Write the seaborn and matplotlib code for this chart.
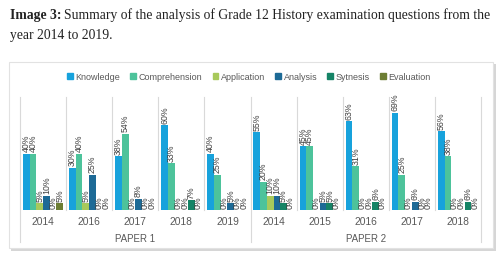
import pandas as pd
import numpy as np
import matplotlib
matplotlib.use("Agg")
import matplotlib.pyplot as plt
import matplotlib.patches as mpatches
import seaborn as sns

# data (percent of questions per cognitive level)
papers = ['PAPER 1'] * 5 + ['PAPER 2'] * 5
years = ['2014', '2016', '2017', '2018', '2019', '2014', '2015', '2016', '2017', '2018']
levels = ['Knowledge', 'Comprehension', 'Application', 'Analysis', 'Sytnesis', 'Evaluation']
knowledge = [40, 30, 38, 60, 40, 55, 45, 63, 69, 56]
comprehension = [40, 40, 54, 33, 25, 20, 45, 31, 25, 38]
application = [5, 5, 0, 0, 0, 10, 0, 0, 0, 0]
analysis = [10, 25, 8, 0, 5, 10, 5, 0, 6, 0]
sytnesis = [0, 0, 0, 7, 0, 5, 5, 6, 0, 6]
evaluation = [5, 0, 0, 0, 0, 0, 0, 0, 0, 0]
colors = ['#17A2DC', '#4DC39B', '#A8C95B', '#1D6A96', '#158466', '#6C7D33']

slots = [p + ' ' + y for p, y in zip(papers, years)]
series = [knowledge, comprehension, application, analysis, sytnesis, evaluation]
rows = []
for lev, vals in zip(levels, series):
    for s, v in zip(slots, vals):
        rows.append({'slot': s, 'level': lev, 'pct': v})
df = pd.DataFrame(rows)

W, H = 503, 260
sans = 'Liberation Sans'
fig = plt.figure(figsize=(W / 100, H / 100), dpi=100)

# chart box with a soft shadow
fig.patches.append(mpatches.Rectangle((11 / W, 9 / H), 485 / W, 187 / H, transform=fig.transFigure,
                                      facecolor='#d6d6d6', edgecolor='none', zorder=-2))
fig.patches.append(mpatches.Rectangle((9 / W, 12 / H), 484 / W, 186 / H, transform=fig.transFigure,
                                      facecolor='white', edgecolor='#e2e2e2', lw=0.8, zorder=-1))

ax = fig.add_axes([20 / W, 50 / H, 461 / W, 113 / H])
ax.set_zorder(2)
ax.patch.set_alpha(0)
sns.barplot(data=df, x='slot', y='pct', hue='level', order=slots, hue_order=levels,
            palette=colors, width=0.87, gap=0, saturation=1, legend=False, ax=ax, errorbar=None)

for cont, vals in zip(ax.containers, series):
    ax.bar_label(cont, labels=[f'{v}%' for v in vals], rotation=90, padding=1,
                 fontsize=6.3, color='#404040', family=sans)

ax.set_ylim(0, 80)
ax.set_xlim(-0.5, 9.5)
ax.set(xlabel='', ylabel='')
ax.set_yticks([])
for sp in ax.spines.values():
    sp.set_visible(False)
ax.set_xticks(range(10))
ax.set_xticklabels(years, fontsize=7.4, color='#595959', family=sans)
ax.tick_params(axis='x', length=0, pad=5)

trans = ax.get_xaxis_transform()
for b in np.arange(-0.5, 10, 1.0):
    if b in (-0.5, 4.5, 9.5):
        ax.plot([b, b], [1, -0.285], transform=trans, color='#d9d9d9', lw=0.8, clip_on=False, zorder=0)
    else:
        ax.plot([b, b], [1, 0], transform=trans, color='#d9d9d9', lw=0.8, clip_on=False, zorder=0)

ax.text(2, -0.255, 'PAPER 1', transform=trans, ha='center', va='center', fontsize=7,
        color='#595959', family=sans)
ax.text(7, -0.255, 'PAPER 2', transform=trans, ha='center', va='center', fontsize=7,
        color='#595959', family=sans)

handles = [mpatches.Patch(color=c, label=l) for c, l in zip(colors, levels)]
leg = fig.legend(handles=handles, loc='center', bbox_to_anchor=(249 / W, 1 - 77 / H), ncol=6,
                 frameon=False, prop={'family': sans, 'size': 6.5}, handlelength=0.65,
                 handleheight=0.65, handletextpad=0.3, columnspacing=1.1, labelcolor='#595959')
leg.set_zorder(3)

# caption above the chart
serif = 'Liberation Serif'
t1 = fig.text(10 / W, 1 - 15 / H, 'Image 3:', fontsize=9.8, family=serif, weight='bold',
              color='#222222', va='center')
fig.canvas.draw()
bb = t1.get_window_extent(fig.canvas.get_renderer())
fig.text(bb.x1 / W + 3 / W, 1 - 15 / H,
         'Summary of the analysis of Grade 12 History examination questions from the',
         fontsize=9.8, family=serif, color='#222222', va='center')
fig.text(10 / W, 1 - 36 / H, 'year 2014 to 2019.', fontsize=9.8, family=serif,
         color='#222222', va='center')

fig.savefig('out.png', dpi=100)
